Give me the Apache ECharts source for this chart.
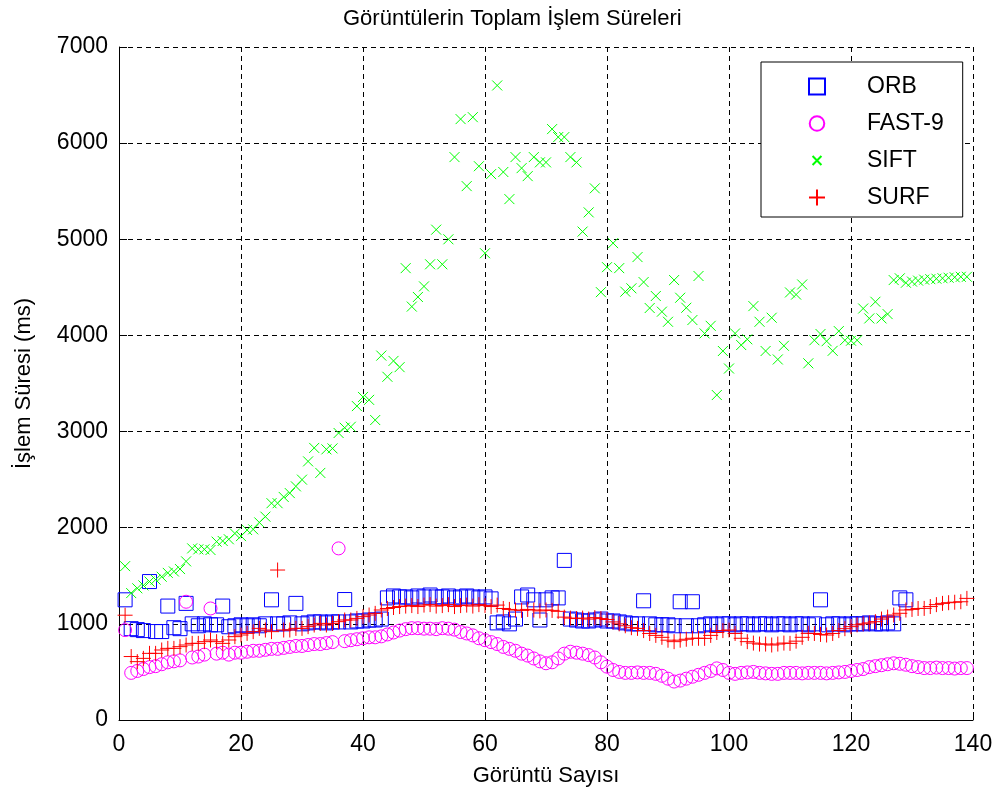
<!DOCTYPE html>
<html>
<head>
<meta charset="utf-8">
<script src="https://cdn.jsdelivr.net/npm/echarts@6/dist/echarts.min.js"></script>
<style>html,body{margin:0;padding:0;background:#fff}#c{width:1001px;height:797px}</style>
</head>
<body>
<div id="c"></div>
<script>
var titleText = 'Görüntülerin Toplam İşlem Süreleri';
var xName = 'Görüntü Sayısı';
var yName = 'İşlem Süresi (ms)';
var seriesNames = ['ORB', 'FAST-9', 'SIFT', 'SURF'];

var orb = [1250,950,940,930,1440,920,920,1185,960,950,1213,1000,980,1000,990,990,1185,970,980,990,
980,990,980,1000,1250,1000,1000,1010,1213,1000,1010,1020,1020,1010,1020,1020,1253,1020,1030,1030,
1040,1040,1050,1270,1290,1280,1280,1270,1290,1280,1300,1280,1280,1290,1270,1280,1290,1280,1270,1280,
1260,1010,1020,1000,1050,1280,1300,1250,1040,1250,1270,1270,1660,1050,1040,1030,1030,1040,1050,1030,
1030,1020,1010,1000,1000,1240,1000,990,990,990,980,1230,980,1230,980,990,1000,990,1000,1000,
990,1000,1000,990,1000,1000,990,1000,1000,990,1000,1000,990,1000,1250,990,1000,1000,990,1000,
1000,1000,1010,1000,1000,1010,1000,1270,1250];

var fast = [935,490,510,530,550,560,580,600,610,620,1230,650,660,680,1160,690,700,680,700,700,
710,720,720,730,740,740,750,760,770,770,780,790,790,800,810,1785,820,830,840,850,
860,860,870,890,910,930,945,955,955,950,950,945,955,950,940,915,900,880,850,830,
810,790,760,740,720,690,670,640,610,590,600,640,690,710,700,690,675,650,600,555,
520,500,490,490,495,490,490,480,460,430,400,410,430,450,470,490,510,537,520,490,
480,490,495,500,490,485,480,480,490,490,490,485,490,490,490,485,490,495,500,510,
520,530,550,560,570,580,590,585,575,560,550,540,540,545,540,540,535,540,540];

var sift = [1600,1320,1370,1400,1440,1460,1490,1530,1545,1570,1650,1785,1775,1775,1768,1855,1862,1880,1940,1913,
1976,1983,2055,2115,2255,2255,2320,2360,2430,2500,2690,2830,2570,2815,2825,2985,3040,3050,3265,3360,
3330,3120,3790,3570,3735,3670,4700,4300,4400,4510,4740,5100,4740,5000,5855,6250,5553,6270,5760,4855,
5678,6600,5700,5418,5855,5740,5657,5855,5800,5800,6146,6063,6063,5855,5800,5080,5280,5530,4450,4710,
4960,4700,4455,4490,4815,4555,4285,4410,4247,4142,4576,4392,4288,4160,4618,4021,4100,3380,3838,3656,
4021,3900,3960,4305,4142,3838,4184,3750,3892,4447,4425,4530,3710,3950,4015,3940,3840,4045,3950,3945,
3950,4280,4177,4350,4177,4222,4576,4594,4548,4560,4570,4580,4585,4590,4595,4600,4605,4610,4610];

var surf = [1090,660,607,641,693,693,728,745,745,763,780,797,797,815,832,815,797,832,867,884,
901,919,953,936,919,1560,936,936,953,953,971,988,1005,988,1005,1023,1040,1040,1057,1075,
1092,1109,1144,1160,1170,1180,1185,1190,1180,1195,1200,1185,1190,1200,1180,1190,1195,1185,1200,1190,
1180,1195,1160,1150,1144,1140,1150,1144,1135,1144,1140,1130,1070,1060,1055,1060,1050,1065,1055,1045,
1020,1000,980,960,953,930,900,880,860,830,815,830,840,850,850,849,880,910,930,936,
900,850,815,800,790,790,780,790,800,797,820,860,901,900,890,884,900,930,950,971,
990,1000,1010,1023,1050,1070,1092,1110,1144,1150,1160,1161,1180,1200,1213,1220,1225,1230,1265];

function pairs(arr) {
  var out = [];
  for (var i = 0; i < arr.length; i++) out.push([i + 1, arr[i]]);
  return out;
}

var SQUARE = 'path://M0,0L10,0L10,10L0,10Z';
var XMARK = 'path://M0,0L10,10M10,0L0,10';
var PLUS = 'path://M5,0L5,10M0,5L10,5';
// legend icons padded with move-only points so they render smaller in the key
var XMARK_KEY = 'path://M-4,-4M14,14M0,0L10,10M10,0L0,10';
var SQUARE_KEY = 'path://M0,0L10,0L10,10L0,10Z';
var CIRCLE_KEY = 'path://M-0.5,-0.5M10.5,10.5M10,5A5,5,0,1,1,0,5A5,5,0,1,1,10,5Z';

var FONT = 'Liberation Sans';
var chart = echarts.init(document.getElementById('c'), null, {renderer: 'canvas'});
chart.setOption({
  backgroundColor: '#ffffff',
  animation: false,
  title: {
    text: titleText,
    left: 338, top: 3,
    textStyle: {fontFamily: FONT, fontSize: 22, fontWeight: 'normal', color: '#000'}
  },
  legend: {
    orient: 'vertical',
    left: 761, top: 62,
    padding: [13, 19, 8, 47],
    itemWidth: 90, itemHeight: 16,
    itemGap: 14,
    symbolKeepAspect: true,
    backgroundColor: '#fff',
    borderColor: '#000', borderWidth: 1, borderRadius: 0,
    textStyle: {fontFamily: FONT, fontSize: 23, color: '#000'},
    data: [
      {name: 'ORB', icon: SQUARE_KEY},
      {name: 'FAST-9', icon: CIRCLE_KEY},
      {name: 'SIFT', icon: XMARK_KEY},
      {name: 'SURF', icon: PLUS}
    ]
  },
  grid: {left: 119, right: 28, top: 47, bottom: 77, containLabel: false},
  xAxis: {
    type: 'value', min: 0, max: 140, interval: 20,
    name: xName, nameLocation: 'middle', nameGap: 45,
    nameTextStyle: {fontFamily: FONT, fontSize: 22, color: '#000'},
    axisLine: {show: true, onZero: false, lineStyle: {color: '#000', width: 1}},
    axisTick: {show: true, inside: true, length: 8, lineStyle: {color: '#000'}},
    axisLabel: {fontFamily: FONT, fontSize: 23, color: '#000', margin: 13, formatter: function (v) { return String(v); }},
    splitLine: {show: true, lineStyle: {color: '#000', type: [5, 4], width: 1}}
  },
  yAxis: {
    type: 'value', min: 0, max: 7000, interval: 1000,
    name: yName, nameLocation: 'middle', nameGap: 84, nameRotate: 90,
    nameTextStyle: {fontFamily: FONT, fontSize: 22, color: '#000'},
    axisLine: {show: true, onZero: false, lineStyle: {color: '#000', width: 1}},
    axisTick: {show: true, inside: true, length: 8, lineStyle: {color: '#000'}},
    axisLabel: {fontFamily: FONT, fontSize: 23, color: '#000', margin: 11, formatter: function (v) { return String(v); }},
    splitLine: {show: true, lineStyle: {color: '#000', type: [5, 4], width: 1}}
  },
  series: [
    {
      name: 'ORB', type: 'scatter', data: pairs(orb),
      symbol: SQUARE, symbolSize: 14,
      itemStyle: {color: 'rgba(0,0,0,0)', borderColor: '#0000ff', borderWidth: 1, opacity: 1}
    },
    {
      name: 'FAST-9', type: 'scatter', data: pairs(fast),
      symbol: 'circle', symbolSize: 13,
      itemStyle: {color: 'rgba(0,0,0,0)', borderColor: '#ff00ff', borderWidth: 1, opacity: 1}
    },
    {
      name: 'SIFT', type: 'scatter', data: pairs(sift),
      symbol: XMARK, symbolSize: 10,
      itemStyle: {color: 'rgba(0,0,0,0)', borderColor: '#00ff00', borderWidth: 1, opacity: 1}
    },
    {
      name: 'SURF', type: 'scatter', data: pairs(surf),
      symbol: PLUS, symbolSize: 15,
      itemStyle: {color: 'rgba(0,0,0,0)', borderColor: '#ff0000', borderWidth: 1, opacity: 1}
    }
  ]
});
</script>
</body>
</html>
